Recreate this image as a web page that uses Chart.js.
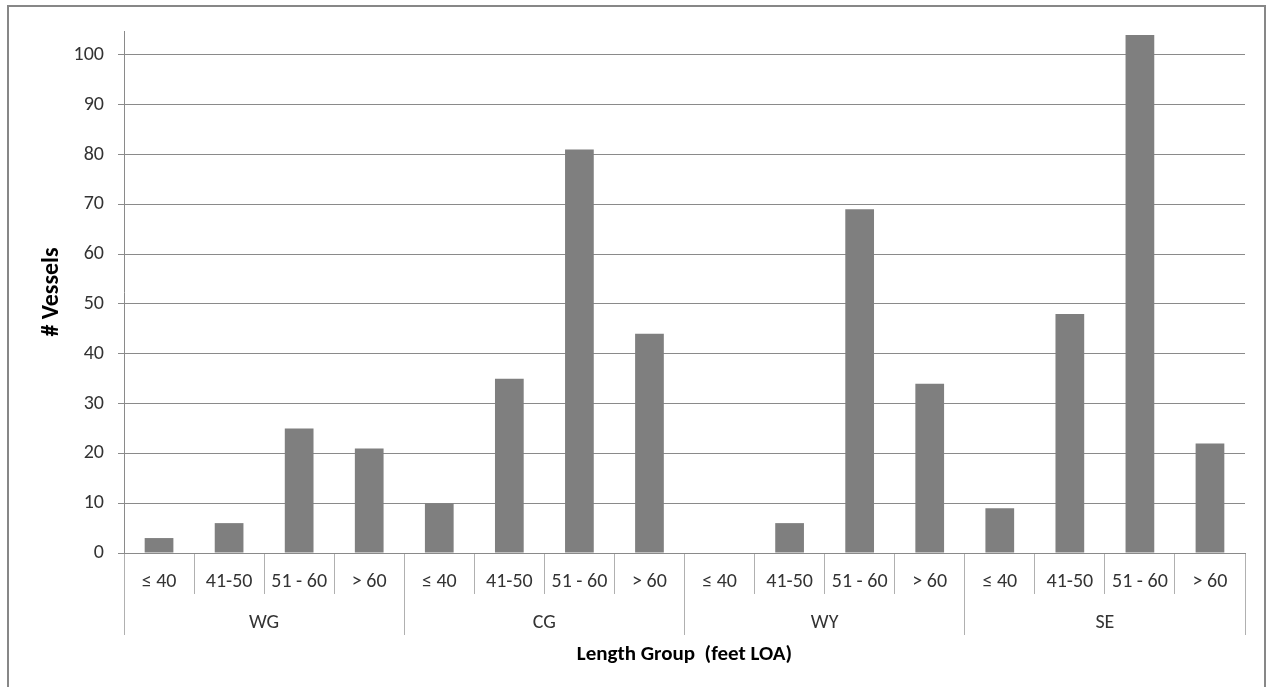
<!DOCTYPE html>
<html>
<head>
<meta charset="utf-8">
<script src="https://cdn.jsdelivr.net/npm/chart.js@4/dist/chart.umd.min.js"></script>
<style>
  html, body { margin: 0; padding: 0; background: #fff; }
  #frame { position: absolute; left: 7px; top: 5px; width: 1255px; height: 700px; border: 2px solid #878787; }
  #wrap { position: absolute; left: 0; top: 0; width: 1268px; height: 687px; }
</style>
</head>
<body>
<div id="frame"></div>
<div id="wrap"><canvas id="chart" width="1268" height="687"></canvas></div>
<script>
// Data
const groups = ['WG', 'CG', 'WY', 'SE'];
const lengthGroups = ['\u2264 40', '41-50', '51 - 60', '> 60'];
const wg = [3, 6, 25, 21];
const cg = [10, 35, 81, 44];
const wy = [0, 6, 69, 34];
const se = [9, 48, 104, 22];
const yTicks = [0, 10, 20, 30, 40, 50, 60, 70, 80, 90, 100];

const labels = groups.flatMap(() => lengthGroups);
const values = [...wg, ...cg, ...wy, ...se];

const FONT = 'Carlito, Lato, "Open Sans", sans-serif';
const gridGray = '#8a8a8a';
const sepGray = '#b0b0b0';

new Chart(document.getElementById('chart'), {
  type: 'bar',
  data: {
    labels: labels,
    datasets: [{
      data: values,
      backgroundColor: '#7f7f7f',
      borderWidth: 0,
      barPercentage: 0.41,
      categoryPercentage: 1
    }]
  },
  options: {
    responsive: false,
    animation: false,
    layout: { padding: { left: 10, right: 23, top: 31, bottom: 10 } },
    plugins: { legend: { display: false }, tooltip: { enabled: false } },
    scales: {
      y: {
        min: 0,
        max: 104.8,
        afterFit: s => { s.width = 114; },
        afterBuildTicks: s => { s.ticks = yTicks.map(v => ({ value: v })); },
        grid: { color: gridGray, tickColor: gridGray, tickLength: 6, lineWidth: 1 },
        border: { color: gridGray },
        ticks: { padding: 14, color: '#333', font: { family: FONT, size: 20 } },
        title: {
          display: true, text: '# Vessels', color: '#000',
          padding: { top: 28, bottom: 0 },
          font: { family: FONT, size: 24, weight: 'bold' }
        }
      },
      x: {
        afterFit: s => { s.height = 41; },
        grid: { offset: true, drawOnChartArea: false, drawTicks: true, tickLength: 41, color: sepGray, tickColor: sepGray },
        border: { color: gridGray },
        ticks: { autoSkip: false, maxRotation: 0, padding: -24, color: '#333', font: { family: FONT, size: 20 } }
      },
      x2: {
        type: 'category',
        position: 'bottom',
        labels: groups,
        offset: true,
        afterFit: s => { s.height = 83; },
        grid: { offset: true, drawOnChartArea: false, drawTicks: true, tickLength: 41, color: sepGray, tickColor: sepGray },
        border: { display: false },
        ticks: { autoSkip: false, maxRotation: 0, padding: -24, color: '#333', font: { family: FONT, size: 20 } },
        title: {
          display: true, text: 'Length Group  (feet LOA)', color: '#000',
          padding: { top: 0, bottom: 10 },
          font: { family: FONT, size: 21, weight: 'bold' }
        }
      }
    }
  }
});
</script>
</body>
</html>
